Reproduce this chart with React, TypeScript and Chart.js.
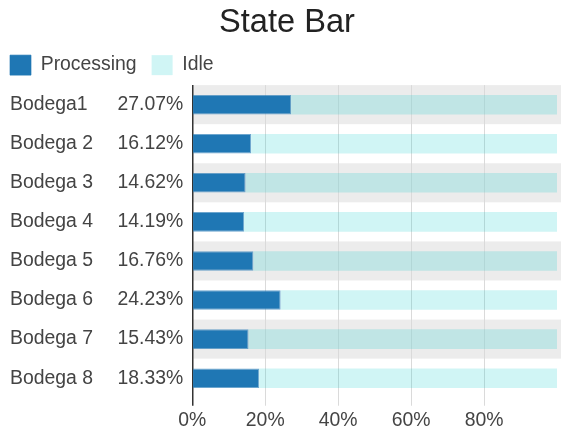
import { useEffect, useRef } from "react";
import { Chart, registerables, Plugin } from "chart.js";

Chart.register(...registerables);

// Warehouses, share of time spent processing vs. idle (percent)
const bodegas = ["Bodega1", "Bodega 2", "Bodega 3", "Bodega 4", "Bodega 5", "Bodega 6", "Bodega 7", "Bodega 8"];
const processing = [27.07, 16.12, 14.62, 14.19, 16.76, 24.23, 15.43, 18.33];
const idle = [72.93, 83.88, 85.38, 85.81, 83.24, 75.77, 84.57, 81.67];

const FONT = "'Liberation Sans', Arial, Helvetica, sans-serif";
const TEXT_SIZE = 19.4;

// Alternating light-grey row stripes behind every other category
const rowStripes: Plugin<"bar"> = {
  id: "rowStripes",
  beforeDraw(chart) {
    const { ctx, chartArea } = chart;
    const yScale = chart.scales.y;
    const n = bodegas.length;
    const half = (chartArea.bottom - chartArea.top) / n / 2;
    ctx.save();
    ctx.fillStyle = "#ececec";
    for (let i = 0; i < n; i += 2) {
      const c = yScale.getPixelForValue(i);
      ctx.fillRect(chartArea.left, c - half, chart.width - chartArea.left, half * 2);
    }
    ctx.restore();
  },
};

export default function App() {
  const canvasRef = useRef<HTMLCanvasElement | null>(null);

  useEffect(() => {
    if (!canvasRef.current) return;
    const chart = new Chart(canvasRef.current, {
      type: "bar",
      data: {
        labels: bodegas,
        datasets: [
          {
            label: "Processing",
            data: processing,
            backgroundColor: "#1f77b4",
            borderColor: "rgba(31,119,180,0.65)",
            borderWidth: 1,
            borderSkipped: "start",
            barPercentage: 0.5,
            categoryPercentage: 1,
          },
          {
            label: "Idle",
            data: idle,
            backgroundColor: "rgba(20,205,205,0.2)",
            borderWidth: 0,
            barPercentage: 0.5,
            categoryPercentage: 1,
          },
        ],
      },
      options: {
        indexAxis: "y",
        responsive: false,
        animation: false,
        devicePixelRatio: 1,
        layout: { padding: { left: -5, right: 0, top: 0, bottom: 0 } },
        font: { family: FONT },
        plugins: {
          title: {
            display: true,
            text: "State Bar",
            color: "#222",
            font: { family: FONT, size: 32.6, weight: "normal" },
            padding: { top: 3, bottom: -2 },
          },
          legend: {
            position: "top",
            align: "start",
            labels: {
              boxWidth: 21,
              boxHeight: 20,
              padding: 15,
              color: "#444",
              font: { family: FONT, size: TEXT_SIZE },
            },
          },
          tooltip: { enabled: false },
        },
        scales: {
          x: {
            type: "linear",
            stacked: true,
            min: 0,
            max: 100,
            border: { display: false },
            grid: {
              tickLength: 8,
              color: (ctx: any) => (ctx.tick && ctx.tick.value === 0 ? "#333" : "#dadada"),
              lineWidth: (ctx: any) => (ctx.tick && ctx.tick.value === 0 ? 1.5 : 1),
            },
            ticks: {
              stepSize: 20,
              padding: 3,
              color: "#444",
              font: { family: FONT, size: TEXT_SIZE },
              callback: (v: any) => (v === 100 ? null : v + "%"),
            },
          },
          y: {
            type: "category",
            stacked: true,
            position: "left",
            weight: 0,
            grid: { display: false, drawTicks: false },
            border: { display: false },
            ticks: {
              padding: 9,
              color: "#444",
              font: { family: FONT, size: TEXT_SIZE },
              callback: (_v: any, i: number) => processing[i].toFixed(2) + "%",
            },
            afterFit: (s: any) => {
              s.width = 75;
            },
          },
          names: {
            type: "category",
            labels: bodegas,
            position: "left",
            offset: true,
            weight: 1,
            grid: { display: false, drawTicks: false },
            border: { display: false },
            ticks: {
              crossAlign: "far",
              color: "#444",
              font: { family: FONT, size: TEXT_SIZE },
            },
            afterFit: (s: any) => {
              s.width = 107.3;
            },
          },
          leftGutter: {
            type: "category",
            labels: bodegas,
            position: "left",
            weight: 2,
            grid: { display: false, drawTicks: false },
            border: { display: false },
            ticks: { display: false },
            afterFit: (s: any) => {
              s.width = 15;
            },
          },
          rightGutter: {
            type: "category",
            labels: bodegas,
            position: "right",
            grid: { display: false, drawTicks: false },
            border: { display: false },
            ticks: { display: false },
            afterFit: (s: any) => {
              s.width = 22;
            },
          },
        } as any,
      },
      plugins: [rowStripes],
    });
    return () => chart.destroy();
  }, []);

  return (
    <div
      style={{
        position: "absolute",
        left: 0,
        top: 0,
        width: 561,
        height: 435,
        overflow: "hidden",
        background: "#fff",
      }}
    >
      <canvas ref={canvasRef} width={579} height={435} style={{ display: "block", width: 579, height: 435 }} />
    </div>
  );
}
